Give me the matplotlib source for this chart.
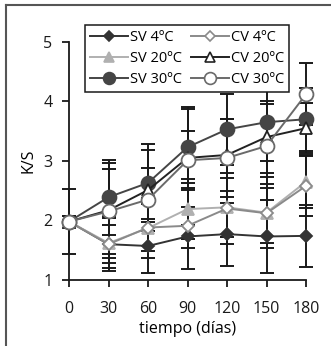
import matplotlib
matplotlib.use("Agg")
import matplotlib.pyplot as plt
from matplotlib.lines import Line2D

plt.rcParams['font.family'] = ['Open Sans', 'DejaVu Sans']

dias = [0, 30, 60, 90, 120, 150, 180]

sv4 = [1.98, 1.60, 1.57, 1.73, 1.77, 1.73, 1.74]
sv4_err = [0.10, 0.32, 0.45, 0.20, 0.53, 0.62, 0.52]
cv4 = [1.98, 1.60, 1.88, 1.91, 2.20, 2.12, 2.58]
cv4_err = [0.10, 0.45, 0.40, 0.72, 0.60, 0.50, 0.50]
sv20 = [1.98, 1.62, 1.87, 2.19, 2.22, 2.13, 2.65]
sv20_err = [0.10, 0.42, 0.50, 0.50, 0.50, 0.60, 0.45]
cv20 = [1.98, 2.17, 2.51, 3.05, 3.10, 3.40, 3.55]
cv20_err = [0.10, 0.80, 0.68, 0.82, 0.60, 0.60, 0.42]
sv30 = [1.98, 2.39, 2.63, 3.23, 3.53, 3.65, 3.70]
sv30_err = [0.10, 0.63, 0.66, 0.68, 0.60, 0.65, 0.53]
cv30 = [1.98, 2.15, 2.35, 3.01, 3.05, 3.25, 4.12]
cv30_err = [0.55, 0.72, 0.53, 0.50, 0.65, 0.70, 0.52]

fig = plt.figure(figsize=(3.31, 3.46), dpi=100)
ax = fig.add_axes([0.2085, 0.191, 0.716, 0.688])

series = [
    (sv4, sv4_err, 'SV 4ºC', '#333333', 'D', '#333333', 6.5),
    (sv20, sv20_err, 'SV 20ºC', '#b0b0b0', '^', '#b0b0b0', 9),
    (sv30, sv30_err, 'SV 30ºC', '#454545', 'o', '#454545', 10),
    (cv4, cv4_err, 'CV 4ºC', '#8a8a8a', 'D', 'white', 6.5),
    (cv20, cv20_err, 'CV 20ºC', '#222222', '^', 'white', 8.5),
    (cv30, cv30_err, 'CV 30ºC', '#6a6a6a', 'o', 'white', 10),
]

# error bars first, all in dark
for y, e, lab, col, m, fc, ms in series:
    ax.errorbar(dias, y, yerr=e, fmt='none', ecolor='#1a1a1a',
                elinewidth=1.4, capsize=4.8, capthick=1.4, zorder=1, clip_on=False)

handles = []
for y, e, lab, col, m, fc, ms in series:
    ax.plot(dias, y, color=col, lw=1.4, marker=m, ms=ms, mfc=fc, mec=col,
            mew=1.3, zorder=3, clip_on=False)
    handles.append(Line2D([], [], color=col, lw=1.4, marker=m, ms=ms - 1.5,
                          mfc=fc, mec=col, mew=1.2, label=lab))

ax.set_xlim(0, 180)
ax.set_ylim(1, 5)
ax.set_xticks(dias)
ax.set_yticks([1, 2, 3, 4, 5])
for s in ['top', 'right']:
    ax.spines[s].set_visible(False)
for s in ['left', 'bottom']:
    ax.spines[s].set_color('#1a1a1a')
    ax.spines[s].set_linewidth(1.3)
ax.tick_params(direction='out', length=5, width=1.3, labelsize=11.5, colors='#1a1a1a')
ax.tick_params(axis='x', pad=10)
ax.tick_params(axis='y', pad=7)
ax.set_xlabel('tiempo (días)', fontsize=11.5, labelpad=3)
ax.set_ylabel('K/S', fontsize=11.5, labelpad=5)

leg = fig.legend(handles=handles, ncol=2, loc='upper left',
                 bbox_to_anchor=(0.257, 0.928), fontsize=10.5, frameon=True,
                 fancybox=False, edgecolor='#1a1a1a', framealpha=1,
                 handlelength=2.6, handletextpad=0.15, columnspacing=0.6,
                 labelspacing=0.4, borderpad=0.35, borderaxespad=0)
leg.get_frame().set_linewidth(1.1)

# figure frame (top and left only)
fig.add_artist(Line2D([6 / 331, 1], [1 - 5 / 346, 1 - 5 / 346], color='#555555', lw=1.5))
fig.add_artist(Line2D([6 / 331, 6 / 331], [0, 1 - 5 / 346], color='#555555', lw=1.5))

fig.savefig('out.png', dpi=100)
